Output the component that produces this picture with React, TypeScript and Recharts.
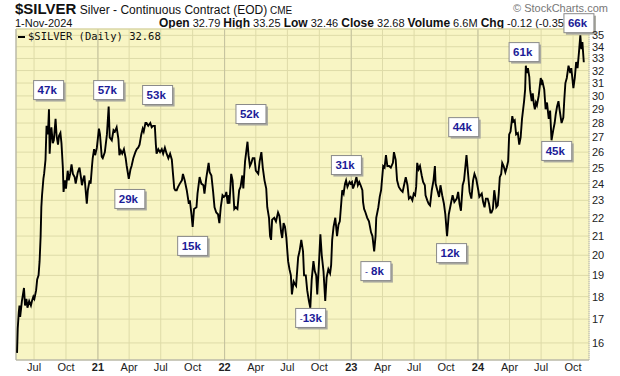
import React from "react";
import { LineChart, Line, XAxis, YAxis, CartesianGrid, ReferenceLine, ReferenceDot } from "recharts";

// daily-ish closes, one pair of arrays per year
const dates2020 = [
  "2020-05-13", "2020-05-15", "2020-05-18", "2020-05-20", "2020-05-22", "2020-05-27", "2020-06-02", "2020-06-05", "2020-06-09", "2020-06-12",
  "2020-06-17", "2020-06-22", "2020-06-25", "2020-06-29", "2020-07-02", "2020-07-07", "2020-07-10", "2020-07-14", "2020-07-17", "2020-07-20",
  "2020-07-22", "2020-07-24", "2020-07-28", "2020-07-30", "2020-08-03", "2020-08-06", "2020-08-10", "2020-08-13", "2020-08-15", "2020-08-18",
  "2020-08-20", "2020-08-24", "2020-08-27", "2020-09-01", "2020-09-04", "2020-09-08", "2020-09-11", "2020-09-15", "2020-09-18", "2020-09-22",
  "2020-09-24", "2020-09-28", "2020-10-01", "2020-10-06", "2020-10-09", "2020-10-13", "2020-10-17", "2020-10-21", "2020-10-26", "2020-10-29",
  "2020-11-04", "2020-11-09", "2020-11-13", "2020-11-16", "2020-11-20", "2020-11-23", "2020-11-30", "2020-12-03", "2020-12-08", "2020-12-11",
  "2020-12-15", "2020-12-17", "2020-12-21", "2020-12-24", "2020-12-29",
];
const prices2020 = [
  15.6, 16.6, 17.3, 17.6, 17.1, 17.8, 18.4, 17.6, 17.9, 17.5,
  17.8, 17.6, 17.8, 18.0, 17.9, 18.3, 18.8, 19.0, 19.7, 21.0,
  22.6, 23.3, 24.3, 24.6, 25.5, 27.8, 27.2, 29.0, 25.9, 27.2,
  27.7, 26.6, 26.8, 28.3, 27.1, 26.5, 27.1, 27.3, 26.6, 25.0,
  23.5, 24.2, 23.7, 24.8, 24.2, 24.6, 25.2, 24.6, 24.4, 24.0,
  24.7, 25.0, 24.4, 23.9, 24.3, 24.5, 22.8, 23.6, 24.2, 24.0,
  25.1, 25.6, 26.2, 25.8, 26.3,
];

const dates2021 = [
  "2021-01-04", "2021-01-07", "2021-01-12", "2021-01-15", "2021-01-21", "2021-01-27", "2021-02-01", "2021-02-04", "2021-02-10", "2021-02-15",
  "2021-02-19", "2021-02-24", "2021-03-01", "2021-03-04", "2021-03-08", "2021-03-12", "2021-03-17", "2021-03-22", "2021-03-25", "2021-03-31",
  "2021-04-05", "2021-04-08", "2021-04-13", "2021-04-19", "2021-04-23", "2021-04-27", "2021-05-01", "2021-05-06", "2021-05-10", "2021-05-13",
  "2021-05-18", "2021-05-21", "2021-05-26", "2021-06-01", "2021-06-05", "2021-06-09", "2021-06-14", "2021-06-17", "2021-06-19", "2021-06-24",
  "2021-06-29", "2021-07-04", "2021-07-08", "2021-07-13", "2021-07-18", "2021-07-23", "2021-07-28", "2021-08-02", "2021-08-05", "2021-08-09",
  "2021-08-12", "2021-08-16", "2021-08-20", "2021-08-25", "2021-08-31", "2021-09-03", "2021-09-08", "2021-09-14", "2021-09-20", "2021-09-23",
  "2021-09-28", "2021-10-01", "2021-10-05", "2021-10-12", "2021-10-15", "2021-10-21", "2021-10-26", "2021-11-01", "2021-11-04", "2021-11-09",
  "2021-11-16", "2021-11-19", "2021-11-24", "2021-11-29", "2021-12-03", "2021-12-08", "2021-12-13", "2021-12-17", "2021-12-21", "2021-12-26",
  "2021-12-30",
];
const prices2021 = [
  27.6, 27.2, 25.7, 25.6, 26.0, 27.2, 29.2, 27.0, 26.8, 27.5,
  27.4, 27.7, 26.9, 25.8, 26.1, 25.9, 26.2, 25.6, 25.1, 24.3,
  24.9, 25.1, 25.6, 26.0, 26.2, 26.3, 26.5, 27.2, 27.6, 27.4,
  28.0, 28.0, 27.8, 28.0, 27.7, 27.8, 27.8, 26.5, 25.9, 26.2,
  26.0, 26.2, 25.9, 26.3, 25.9, 25.6, 25.9, 25.5, 24.7, 23.7,
  23.6, 23.6, 23.8, 24.0, 24.2, 24.6, 24.2, 23.6, 22.8, 23.0,
  22.1, 21.5, 22.5, 22.6, 23.4, 24.4, 24.0, 23.9, 23.4, 24.3,
  25.3, 24.7, 24.5, 23.5, 22.6, 22.3, 22.2, 21.7, 22.6, 23.3,
  23.2,
];

const dates2022 = [
  "2022-01-04", "2022-01-06", "2022-01-10", "2022-01-13", "2022-01-15", "2022-01-20", "2022-01-24", "2022-01-29", "2022-02-02", "2022-02-07",
  "2022-02-12", "2022-02-16", "2022-02-21", "2022-02-24", "2022-03-01", "2022-03-08", "2022-03-11", "2022-03-15", "2022-03-19", "2022-03-23",
  "2022-03-28", "2022-04-01", "2022-04-08", "2022-04-12", "2022-04-17", "2022-04-21", "2022-04-26", "2022-05-01", "2022-05-04", "2022-05-09",
  "2022-05-12", "2022-05-15", "2022-05-18", "2022-05-24", "2022-05-29", "2022-06-04", "2022-06-08", "2022-06-13", "2022-06-16", "2022-06-20",
  "2022-06-24", "2022-06-28", "2022-07-03", "2022-07-07", "2022-07-11", "2022-07-14", "2022-07-19", "2022-07-22", "2022-07-26", "2022-08-01",
  "2022-08-05", "2022-08-10", "2022-08-15", "2022-08-18", "2022-08-23", "2022-08-27", "2022-09-01", "2022-09-05", "2022-09-09", "2022-09-14",
  "2022-09-18", "2022-09-22", "2022-09-25", "2022-09-30", "2022-10-04", "2022-10-08", "2022-10-13", "2022-10-18", "2022-10-22", "2022-10-27",
  "2022-11-01", "2022-11-04", "2022-11-07", "2022-11-11", "2022-11-16", "2022-11-21", "2022-11-25", "2022-11-29", "2022-12-03", "2022-12-06",
  "2022-12-10", "2022-12-14", "2022-12-17", "2022-12-21", "2022-12-27", "2022-12-30",
];
const prices2022 = [
  23.3, 23.5, 22.8, 23.3, 22.8, 24.6, 24.2, 22.5, 22.6, 22.5,
  23.6, 23.8, 24.5, 23.7, 25.4, 26.7, 25.8, 25.1, 25.3, 25.6,
  25.6, 24.8, 24.6, 25.4, 26.0, 25.0, 24.2, 23.7, 22.6, 22.0,
  21.0, 20.8, 21.9, 22.0, 21.8, 22.3, 22.1, 21.2, 20.9, 21.7,
  21.5, 20.9, 19.7, 19.3, 19.0, 18.1, 18.7, 18.6, 18.5, 19.9,
  20.2, 20.8, 20.2, 19.0, 19.0, 18.3, 17.8, 17.5, 18.8, 19.7,
  19.2, 19.0, 18.1, 19.6, 21.1, 20.0, 19.2, 17.8, 18.9, 19.3,
  19.1, 19.5, 20.8, 21.5, 22.0, 21.0, 21.6, 21.8, 22.8, 23.6,
  23.4, 24.0, 24.2, 23.8, 24.1, 24.0,
];

const dates2023 = [
  "2023-01-03", "2023-01-06", "2023-01-11", "2023-01-16", "2023-01-20", "2023-01-24", "2023-01-28", "2023-02-02", "2023-02-04", "2023-02-07",
  "2023-02-11", "2023-02-16", "2023-02-21", "2023-02-27", "2023-03-03", "2023-03-08", "2023-03-12", "2023-03-14", "2023-03-20", "2023-03-24",
  "2023-03-28", "2023-04-03", "2023-04-07", "2023-04-11", "2023-04-15", "2023-04-20", "2023-04-25", "2023-05-01", "2023-05-04", "2023-05-09",
  "2023-05-13", "2023-05-18", "2023-05-24", "2023-05-29", "2023-06-02", "2023-06-07", "2023-06-12", "2023-06-16", "2023-06-21", "2023-06-26",
  "2023-06-30", "2023-07-04", "2023-07-07", "2023-07-10", "2023-07-14", "2023-07-18", "2023-07-23", "2023-07-27", "2023-08-01", "2023-08-03",
  "2023-08-08", "2023-08-12", "2023-08-16", "2023-08-21", "2023-08-26", "2023-08-30", "2023-09-01", "2023-09-06", "2023-09-11", "2023-09-15",
  "2023-09-20", "2023-09-25", "2023-09-29", "2023-10-04", "2023-10-09", "2023-10-12", "2023-10-16", "2023-10-20", "2023-10-25", "2023-11-01",
  "2023-11-05", "2023-11-09", "2023-11-13", "2023-11-18", "2023-11-22", "2023-11-29", "2023-12-04", "2023-12-08", "2023-12-13", "2023-12-18",
  "2023-12-22", "2023-12-27",
];
const prices2023 = [
  24.1, 23.7, 24.0, 24.4, 23.9, 24.1, 23.9, 23.6, 22.9, 22.5,
  22.3, 22.0, 21.8, 21.2, 21.0, 20.2, 21.0, 22.0, 22.6, 23.2,
  23.6, 25.1, 25.0, 25.8, 25.1, 25.1, 25.0, 25.3, 26.0, 25.5,
  24.2, 23.8, 23.6, 23.5, 23.9, 24.4, 23.9, 23.1, 23.2, 23.0,
  23.4, 23.3, 23.8, 25.3, 24.9, 25.1, 24.5, 24.1, 23.9, 23.3,
  23.0, 22.8, 22.7, 23.6, 24.2, 25.1, 24.0, 23.6, 23.2, 23.9,
  23.3, 22.8, 22.2, 21.0, 22.2, 22.5, 22.9, 23.3, 22.9, 23.1,
  23.5, 22.8, 22.4, 23.9, 24.2, 25.8, 24.5, 23.5, 23.1, 24.2,
  24.6, 24.3,
];

const dates2024 = [
  "2024-01-02", "2024-01-05", "2024-01-12", "2024-01-16", "2024-01-20", "2024-01-24", "2024-01-29", "2024-02-02", "2024-02-06", "2024-02-09",
  "2024-02-13", "2024-02-17", "2024-02-21", "2024-02-23", "2024-02-27", "2024-03-01", "2024-03-04", "2024-03-08", "2024-03-11", "2024-03-15",
  "2024-03-20", "2024-03-24", "2024-03-28", "2024-03-31", "2024-04-04", "2024-04-09", "2024-04-12", "2024-04-16", "2024-04-20", "2024-04-25",
  "2024-04-29", "2024-05-03", "2024-05-07", "2024-05-13", "2024-05-16", "2024-05-18", "2024-05-21", "2024-05-24", "2024-05-28", "2024-05-30",
  "2024-06-04", "2024-06-07", "2024-06-10", "2024-06-13", "2024-06-16", "2024-06-19", "2024-06-24", "2024-06-30", "2024-07-03", "2024-07-05",
  "2024-07-10", "2024-07-14", "2024-07-18", "2024-07-23", "2024-07-27", "2024-07-31", "2024-08-05", "2024-08-09", "2024-08-12", "2024-08-16",
  "2024-08-20", "2024-08-23", "2024-08-29", "2024-09-03", "2024-09-06", "2024-09-09", "2024-09-13", "2024-09-18", "2024-09-23", "2024-09-26",
  "2024-10-02", "2024-10-06", "2024-10-10", "2024-10-14", "2024-10-18", "2024-10-22", "2024-10-25", "2024-10-28", "2024-10-30", "2024-11-01",
];
const prices2024 = [
  23.6, 23.2, 23.4, 22.9, 22.6, 23.1, 23.1, 22.8, 22.3, 22.3,
  22.5, 23.6, 23.0, 22.6, 22.7, 23.4, 24.4, 24.6, 25.3, 25.1,
  24.7, 25.0, 25.4, 27.2, 27.4, 28.5, 28.1, 28.2, 27.2, 27.3,
  26.5, 27.0, 28.3, 29.6, 30.5, 32.4, 31.8, 32.2, 31.5, 30.5,
  29.6, 30.2, 29.4, 29.0, 29.5, 29.3, 30.0, 31.4, 31.0, 31.1,
  30.5, 29.0, 29.5, 28.3, 28.9, 26.8, 27.5, 28.0, 28.6, 29.2,
  29.6, 29.0, 28.0, 28.4, 29.8, 31.0, 31.4, 32.4, 31.8, 32.2,
  30.6, 31.4, 32.7, 32.2, 33.5, 35.0, 33.8, 34.4, 33.5, 32.68,
];

const priceTicks = [16, 17, 18, 19, 20, 21, 22, 23, 24, 25, 26, 27, 28, 29, 30, 31, 32, 33, 34, 35];

const quarterDates = [
  "2020-07-01", "2020-10-01", "2021-01-01", "2021-04-01", "2021-07-01", "2021-10-01",
  "2022-01-01", "2022-04-01", "2022-07-01", "2022-10-01", "2023-01-01", "2023-04-01",
  "2023-07-01", "2023-10-01", "2024-01-01", "2024-04-01", "2024-07-01", "2024-10-01",
];
const quarterLabels = ["Jul", "Oct", "21", "Apr", "Jul", "Oct", "22", "Apr", "Jul", "Oct", "23", "Apr", "Jul", "Oct", "24", "Apr", "Jul", "Oct"];
const yearStarts = ["2021-01-01", "2022-01-01", "2023-01-01", "2024-01-01"];

// volume callouts
const noteTexts = ["47k", "57k", "53k", "52k", "29k", "15k", "-13k", "31k", "- 8k", "12k", "44k", "61k", "45k", "66k"];
const noteDates = [
  "2020-08-12", "2021-02-01", "2021-06-22", "2022-03-18", "2021-04-03", "2021-10-01", "2022-09-06",
  "2022-12-18", "2023-03-13", "2023-10-17", "2023-11-21", "2024-05-13", "2024-08-15", "2024-10-18",
];
const notePrices = [30.45, 30.45, 30.07, 28.65, 23.08, 20.48, 17.05, 25.16, 19.21, 20.11, 27.71, 33.54, 26.08, 36.1];

const X_MIN = Date.parse("2020-05-10");
const X_MAX = Date.parse("2024-11-16");
const Y_MIN = 15.32;
const Y_MAX = 35.57;

const allDates = [...dates2020, ...dates2021, ...dates2022, ...dates2023, ...dates2024];
const allPrices = [...prices2020, ...prices2021, ...prices2022, ...prices2023, ...prices2024];
const data = allDates.map((d, i) => ({ t: Date.parse(d), price: allPrices[i] }));
const quarterTs = quarterDates.map((d) => Date.parse(d));

const FONT = "'Liberation Sans', Arial, sans-serif";

const XTick = (props: any) => {
  const { x, y, payload } = props;
  const label = quarterLabels[quarterTs.indexOf(payload.value)] ?? "";
  const isYear = /^\d/.test(label);
  return (
    <text x={x} y={y + 11} textAnchor="middle" fontSize={11} fontFamily={FONT} fontWeight={isYear ? 700 : 400} fill="#222">
      {label}
    </text>
  );
};

const YTick = (props: any) => {
  const { x, y, payload } = props;
  return (
    <text x={x + 3} y={y + 4} textAnchor="start" fontSize={11} fontFamily={FONT} fill="#222">
      {payload.value}
    </text>
  );
};

const NoteBox = (text: string) => (props: any) => {
  const { cx, cy } = props;
  const w = 30;
  const h = 19;
  const neg = text.startsWith("-");
  return (
    <g>
      <rect x={cx - w / 2 + 2} y={cy - h / 2 + 2} width={w} height={h} fill="#a9a9a0" />
      <rect x={cx - w / 2} y={cy - h / 2} width={w} height={h} fill="#fff" stroke="#8a8a8a" strokeWidth={1} />
      <text x={cx - w / 2 + 4} y={cy + 4} fontSize={11.5} fontFamily={FONT} fontWeight={700} fill="#1c1c98" style={{ whiteSpace: "pre" }}>
        {neg ? <tspan fontWeight={400} fontSize={9}>-</tspan> : null}
        {neg ? text.slice(1).replace(" ", "\u00a0") : text}
      </text>
    </g>
  );
};

export default function App() {
  return (
    <div style={{ position: "absolute", left: 0, top: 0, width: 620, height: 376, background: "#fff", fontFamily: FONT, overflow: "hidden" }}>
      {/* header under the chart svg so the 66k box covers it */}
      <div style={{ position: "absolute", left: 15, top: 1, whiteSpace: "nowrap", lineHeight: "15px", color: "#111" }}>
        <span style={{ fontSize: 15, fontWeight: 700 }}>$SILVER</span>
        <span style={{ fontSize: 12 }}> Silver - Continuous Contract (EOD)</span>
        <span style={{ fontSize: 10 }}> CME</span>
      </div>
      <div style={{ position: "absolute", left: 513, top: 2, fontSize: 11, color: "#777", whiteSpace: "nowrap" }}>© StockCharts.com</div>
      <div style={{ position: "absolute", left: 15, top: 17, fontSize: 11, whiteSpace: "nowrap", lineHeight: "12px", color: "#111" }}>1-Nov-2024</div>
      <div style={{ position: "absolute", left: 159, top: 17, fontSize: 11, whiteSpace: "nowrap", lineHeight: "12px", color: "#111" }}>
        <b style={{ fontSize: 12 }}>Open</b> 32.79 <b style={{ fontSize: 12 }}>High</b> 33.25 <b style={{ fontSize: 12 }}>Low</b> 32.46{" "}
        <b style={{ fontSize: 12 }}>Close</b> 32.68 <b style={{ fontSize: 12 }}>Volume</b> 6.6M <b style={{ fontSize: 12 }}>Chg</b> -0.12 (-0.35%)
      </div>

      <div style={{ position: "absolute", left: 0, top: 0 }}>
        <LineChart width={620} height={376} data={data} margin={{ top: 29, right: 0, bottom: 0, left: 16 }}>
          <CartesianGrid fill="#f8f5c4" stroke="#dedba8" strokeDasharray="" />
          <XAxis
            dataKey="t"
            type="number"
            domain={[X_MIN, X_MAX]}
            allowDataOverflow
            ticks={quarterTs}
            tick={<XTick />}
            tickLine={false}
            tickSize={0}
            tickMargin={0}
            height={16}
            axisLine={{ stroke: "#a8a8a8" }}
            interval={0}
          />
          <YAxis
            orientation="right"
            scale="log"
            domain={[Y_MIN, Y_MAX]}
            allowDataOverflow
            ticks={priceTicks}
            tick={<YTick />}
            tickLine={false}
            tickSize={0}
            tickMargin={0}
            width={31}
            axisLine={{ stroke: "#b8b8b8", strokeDasharray: "1 1" }}
            interval={0}
          />
          {yearStarts.map((d) => (
            <ReferenceLine key={d} x={Date.parse(d)} stroke="#c4c2a0" />
          ))}
          <ReferenceLine x={X_MIN} stroke="#a8a8a8" />
          <ReferenceLine y={Y_MAX} stroke="#d6d3a4" />
          <Line type="linear" dataKey="price" stroke="#000" strokeWidth={1.9} dot={false} isAnimationActive={false} />
          {noteTexts.map((txt, i) => (
            <ReferenceDot
              key={txt + i}
              x={Date.parse(noteDates[i])}
              y={notePrices[i]}
              r={0}
              ifOverflow="visible"
              shape={NoteBox(txt)}
            />
          ))}
        </LineChart>
      </div>

      {/* in-plot legend */}
      <div style={{ position: "absolute", left: 18, top: 30, fontSize: 10.5, fontFamily: "'DejaVu Sans Mono', monospace", whiteSpace: "nowrap", color: "#111", lineHeight: "12px" }}>
        <span style={{ display: "inline-block", width: 7, height: 2, background: "#000", verticalAlign: "middle", marginRight: 3 }} />
        $SILVER (Daily) 32.68
      </div>
    </div>
  );
}
